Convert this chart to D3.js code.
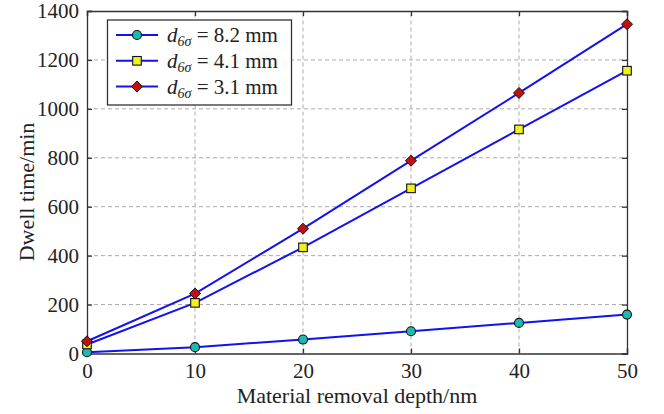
<!DOCTYPE html>
<html><head><meta charset="utf-8">
<script src="https://cdn.jsdelivr.net/npm/d3@7"></script>
<style>body{margin:0;background:#fff}svg{display:block}text{font-family:"Liberation Serif","Times New Roman",serif}</style>
</head><body>
<script>
const depth = [0, 10, 20, 30, 40, 50];
const s82 = [5, 26, 57, 91, 125, 159];
const s41 = [37, 207, 434, 675, 916, 1156];
const s31 = [50, 245, 510, 788, 1065, 1346];
const seriesNames = ["8.2 mm", "4.1 mm", "3.1 mm"];
const xTicks = [0, 10, 20, 30, 40, 50];
const yTicks = [0, 200, 400, 600, 800, 1000, 1200, 1400];

const W = 664, H = 414;
const m = {l: 87, r: 37, t: 11, b: 60.5};
const svg = d3.select("body").append("svg").attr("width", W).attr("height", H);
const x = d3.scaleLinear().domain([0, 50]).range([m.l, W - m.r]);
const y = d3.scaleLinear().domain([0, 1400]).range([H - m.b, m.t]);

// grid
const g = svg.append("g");
g.selectAll(".gx").data(xTicks.slice(1, -1)).join("line")
  .attr("x1", d => x(d)).attr("x2", d => x(d)).attr("y1", y(0)).attr("y2", y(1400))
  .attr("stroke", "#aaa").attr("stroke-width", 1).attr("stroke-dasharray", "4,3");
g.selectAll(".gy").data(yTicks.slice(1, -1)).join("line")
  .attr("y1", d => y(d)).attr("y2", d => y(d)).attr("x1", x(0)).attr("x2", x(50))
  .attr("stroke", "#aaa").attr("stroke-width", 1).attr("stroke-dasharray", "4,3");

// axes
const font = 21;
const ax = svg.append("g").attr("transform", `translate(0,${y(0)})`)
  .call(d3.axisBottom(x).tickValues(xTicks).tickSize(-5).tickPadding(10).tickFormat(d3.format("d")));
const ay = svg.append("g").attr("transform", `translate(${x(0)},0)`)
  .call(d3.axisLeft(y).tickValues(yTicks).tickSize(-5).tickPadding(8).tickFormat(d3.format("d")));
const axT = svg.append("g").attr("transform", `translate(0,${y(1400)})`)
  .call(d3.axisTop(x).tickValues(xTicks).tickSize(-5).tickFormat(""));
const ayR = svg.append("g").attr("transform", `translate(${x(50)},0)`)
  .call(d3.axisRight(y).tickValues(yTicks).tickSize(-5).tickFormat(""));
[ax, ay, axT, ayR].forEach(a => {
  a.select(".domain").attr("stroke", "#333").attr("stroke-width", 1.3);
  a.selectAll(".tick line").attr("stroke", "#333").attr("stroke-width", 1.3);
  a.selectAll("text").attr("font-size", font).attr("fill", "#222")
    .style("font-family", '"Liberation Serif","Times New Roman",serif');
});

svg.append("text").attr("x", 357).attr("y", 403)
  .attr("text-anchor", "middle").attr("font-size", 22).attr("fill", "#222")
  .text("Material removal depth/nm");
svg.append("text").attr("transform", `translate(34,${192}) rotate(-90)`)
  .attr("text-anchor", "middle").attr("font-size", 22).attr("fill", "#222")
  .text("Dwell time/min");

// series
const data = [s82, s41, s31];
const lineColor = "#1212f0";
const markerFill = ["#1fb8b0", "#f0f020", "#c01010"];
const line = d3.line().x((d, i) => x(depth[i])).y(d => y(d));
data.forEach((s, k) => {
  svg.append("path").datum(s).attr("d", line).attr("fill", "none")
    .attr("stroke", lineColor).attr("stroke-width", 2);
});
function marker(sel, k, cx, cy) {
  if (k === 0) sel.append("circle").attr("cx", cx).attr("cy", cy).attr("r", 4.5)
    .attr("fill", markerFill[0]).attr("stroke", "#111").attr("stroke-width", 1.1);
  else if (k === 1) sel.append("rect").attr("x", cx - 4.3).attr("y", cy - 4.3).attr("width", 8.6).attr("height", 8.6)
    .attr("fill", markerFill[1]).attr("stroke", "#111").attr("stroke-width", 1.1);
  else sel.append("path").attr("d", `M${cx},${cy - 5.5}L${cx + 5.5},${cy}L${cx},${cy + 5.5}L${cx - 5.5},${cy}Z`)
    .attr("fill", markerFill[2]).attr("stroke", "#111").attr("stroke-width", 1);
}
data.forEach((s, k) => {
  s.forEach((v, i) => marker(svg, k, x(depth[i]), y(v)));
});

// legend
const lg = svg.append("g");
lg.append("rect").attr("x", 107.5).attr("y", 20).attr("width", 184).attr("height", 85)
  .attr("fill", "#fff").attr("stroke", "#333").attr("stroke-width", 1.3);
seriesNames.forEach((n, k) => {
  const cy = 35 + k * 25.8;
  lg.append("line").attr("x1", 116).attr("x2", 158).attr("y1", cy).attr("y2", cy)
    .attr("stroke", lineColor).attr("stroke-width", 2);
  marker(lg, k, 137, cy);
  const t = lg.append("text").attr("x", 167).attr("y", cy + 7).attr("font-size", 21).attr("fill", "#222");
  t.append("tspan").attr("font-style", "italic").text("d");
  t.append("tspan").attr("font-style", "italic").attr("font-size", 14).attr("dy", 4).text("6σ");
  t.append("tspan").attr("dy", -4).text(" = " + n);
});
</script>
</body></html>
